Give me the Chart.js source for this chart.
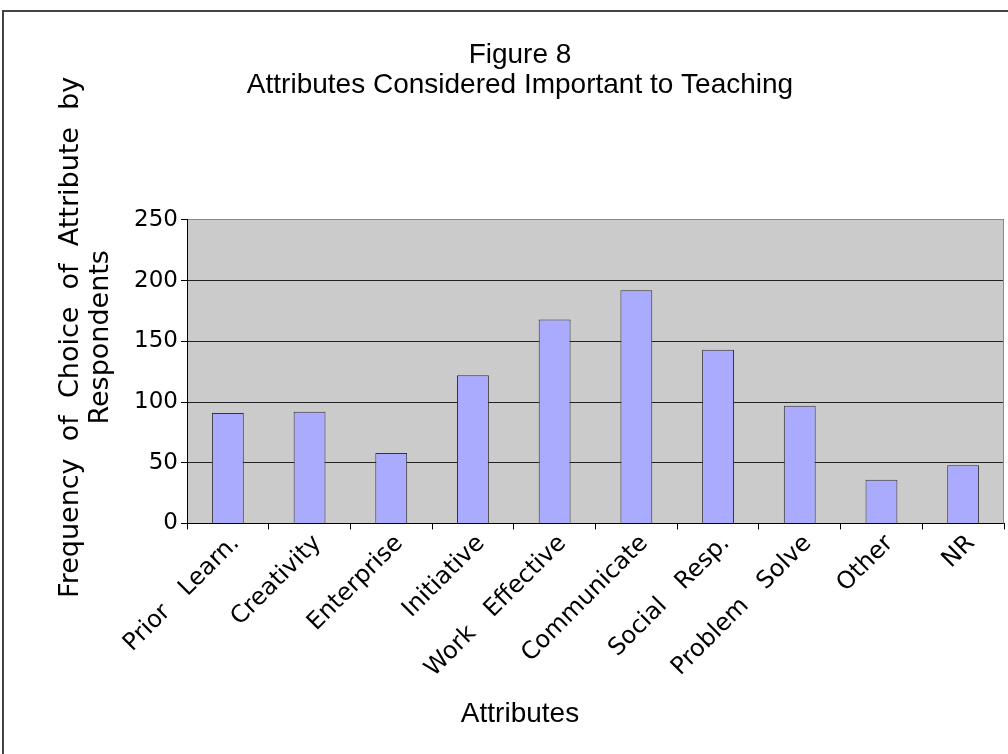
<!DOCTYPE html>
<html>
<head>
<meta charset="utf-8">
<script src="https://cdn.jsdelivr.net/npm/chart.js@4"></script>
<style>
  html, body { margin: 0; padding: 0; background: #fff; }
  #wrap { width: 1008px; height: 754px; }
</style>
</head>
<body>
<div id="wrap"><canvas id="chart" width="1008" height="754"></canvas></div>
<script>
// Data
const attributes = ['Prior   Learn.', 'Creativity', 'Enterprise', 'Initiative', 'Work   Effective',
    'Communicate', 'Social   Resp.', 'Problem   Solve', 'Other', 'NR'];
const frequencies = [91, 92, 58, 122, 168, 192, 143, 97, 36, 48];
const yTicks = [0, 50, 100, 150, 200, 250];

const sans = "'Liberation Sans', Arial, sans-serif";
const dejavu = "'DejaVu Sans', Verdana, sans-serif";

// grey plot area + outer frame
const frame = {
    id: 'frame',
    beforeDraw(chart) {
        const { ctx, chartArea: a } = chart;
        ctx.save();
        ctx.fillStyle = '#fff';
        ctx.fillRect(0, 0, chart.width, chart.height);
        ctx.strokeStyle = '#444';
        ctx.lineWidth = 2;
        ctx.strokeRect(3, 11, chart.width + 10, chart.height + 10);
        ctx.fillStyle = '#cbcbcb';
        ctx.fillRect(a.left, a.top, a.right - a.left, a.bottom - a.top);
        ctx.restore();
    },
    afterDraw(chart) {
        const { ctx, chartArea: a } = chart;
        ctx.save();
        ctx.strokeStyle = '#8a8a8a';
        ctx.lineWidth = 1;
        ctx.beginPath();
        ctx.moveTo(a.right - 0.5, a.top);
        ctx.lineTo(a.right - 0.5, a.bottom);
        ctx.stroke();
        ctx.restore();
    }
};

new Chart(document.getElementById('chart'), {
    type: 'bar',
    data: {
        labels: attributes,
        datasets: [{
            data: frequencies,
            backgroundColor: '#aaaaff',
            borderColor: '#333333',
            borderWidth: 1,
            categoryPercentage: 1,
            barPercentage: 0.39
        }]
    },
    options: {
        responsive: false,
        animation: false,
        layout: { padding: { left: 36, right: 4, top: 0, bottom: 0 } },
        plugins: {
            legend: { display: false },
            tooltip: { enabled: false },
            title: {
                display: true,
                text: ['Figure 8', 'Attributes Considered Important to Teaching'],
                color: '#000',
                font: { family: sans, size: 28, weight: 'normal', lineHeight: 1.07 },
                padding: { top: 40, bottom: 120 }
            },
            subtitle: {
                display: true,
                position: 'bottom',
                text: 'Attributes',
                color: '#000',
                font: { family: sans, size: 28, weight: 'normal', lineHeight: 1.2 },
                padding: { top: 0, bottom: 23 }
            }
        },
        scales: {
            x: {
                afterFit(scale) { scale.height = 174; },
                grid: { offset: true, drawOnChartArea: false, color: '#000', tickLength: 6 },
                border: { color: '#000', width: 1 },
                ticks: {
                    color: '#000',
                    font: { family: dejavu, size: 24 },
                    maxRotation: 45, minRotation: 45,
                    autoSkip: false,
                    padding: 0,
                    labelOffset: 8
                }
            },
            y: {
                min: 0, max: 250,
                afterFit(scale) { scale.width = 151; },
                afterBuildTicks(scale) { scale.ticks = yTicks.map(v => ({ value: v })); },
                grid: {
                    color: ctx => ctx.tick && ctx.tick.value === 250 ? '#8a8a8a' : '#222',
                    tickColor: '#000',
                    tickLength: 6
                },
                border: { color: '#000', width: 1 },
                ticks: { color: '#000', font: { family: dejavu, size: 23 }, padding: 3 },
                title: {
                    display: true,
                    text: ['        Frequency  of  Choice  of  Attribute  by',
                           '        Respondents'],
                    color: '#000',
                    font: { family: dejavu, size: 27, lineHeight: 1.1 },
                    padding: { top: 20, bottom: 0 }
                }
            }
        }
    },
    plugins: [frame]
});
</script>
</body>
</html>
